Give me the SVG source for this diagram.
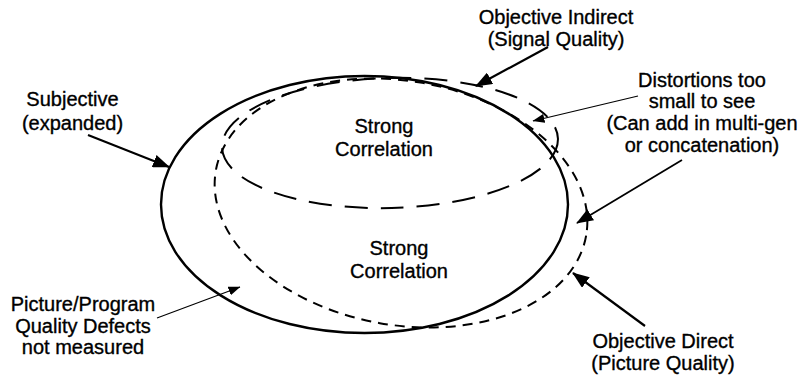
<svg xmlns="http://www.w3.org/2000/svg" width="801" height="379" viewBox="0 0 801 379">
<style>
text{font-family:"Liberation Sans",Arial,sans-serif;font-size:20px;fill:#000;stroke:#000;stroke-width:0.35;text-anchor:middle}
.shape{fill:none;stroke:#000}
.subj{stroke-width:2.4}
.direct{stroke-width:2;stroke-dasharray:10 7}
.indirect{stroke-width:2;stroke-dasharray:23 13}
.thick{stroke:#000;stroke-width:2.2;fill:none}
.mid{stroke:#000;stroke-width:1.8;fill:none}
.thin{stroke:#000;stroke-width:1.2;fill:none}
</style>
<defs>
<marker id="big" markerUnits="userSpaceOnUse" markerWidth="17" markerHeight="13" viewBox="0 0 17 13" refX="16" refY="6.5" orient="auto">
<path d="M0,0 L17,6.5 L0,13 Z" fill="#000"/>
</marker>
<marker id="small" markerUnits="userSpaceOnUse" markerWidth="12" markerHeight="9" viewBox="0 0 12 9" refX="11.5" refY="4.5" orient="auto">
<path d="M0,0 L12,4.5 L0,9 Z" fill="#000"/>
</marker>
</defs>
<g id="subjective-region"><ellipse class="shape subj" cx="364.5" cy="204.5" rx="203.5" ry="128.5"/></g>
<g id="objective-direct-region"><ellipse class="shape direct" cx="401" cy="203" rx="188" ry="122" transform="rotate(10 401 203)"/></g>
<g id="objective-indirect-region"><ellipse class="shape indirect" cx="390" cy="143" rx="168" ry="65" transform="rotate(-1.5 390 143)"/></g>
<g id="connectors">
<line class="thick" x1="88" y1="135" x2="169" y2="167" marker-end="url(#big)"/>
<line class="thick" x1="548" y1="47" x2="476" y2="86" marker-end="url(#big)"/>
<line class="thin" x1="638" y1="96" x2="533" y2="121" marker-end="url(#small)"/>
<line class="mid" x1="682" y1="160" x2="577" y2="223" marker-end="url(#big)"/>
<line class="thick" x1="645" y1="326" x2="573" y2="273" marker-end="url(#big)"/>
<line class="thin" x1="157" y1="318" x2="240" y2="287" marker-end="url(#small)"/>
</g>
<g id="label-subjective"><text x="72.5" y="106">Subjective</text><text x="72.5" y="130">(expanded)</text></g>
<g id="label-objective-indirect"><text x="556" y="24">Objective Indirect</text><text x="556" y="46">(Signal Quality)</text></g>
<g id="label-distortions"><text x="702" y="87">Distortions too</text><text x="702" y="108">small to see</text><text x="702" y="130">(Can add in multi-gen</text><text x="702" y="152">or concatenation)</text></g>
<g id="label-strong-upper"><text x="384" y="133">Strong</text><text x="384" y="156">Correlation</text></g>
<g id="label-strong-lower"><text x="399" y="255">Strong</text><text x="399" y="278">Correlation</text></g>
<g id="label-defects"><text x="83" y="311">Picture/Program</text><text x="83" y="333">Quality Defects</text><text x="83" y="354">not measured</text></g>
<g id="label-objective-direct"><text x="663" y="348">Objective Direct</text><text x="663" y="370">(Picture Quality)</text></g>
</svg>
